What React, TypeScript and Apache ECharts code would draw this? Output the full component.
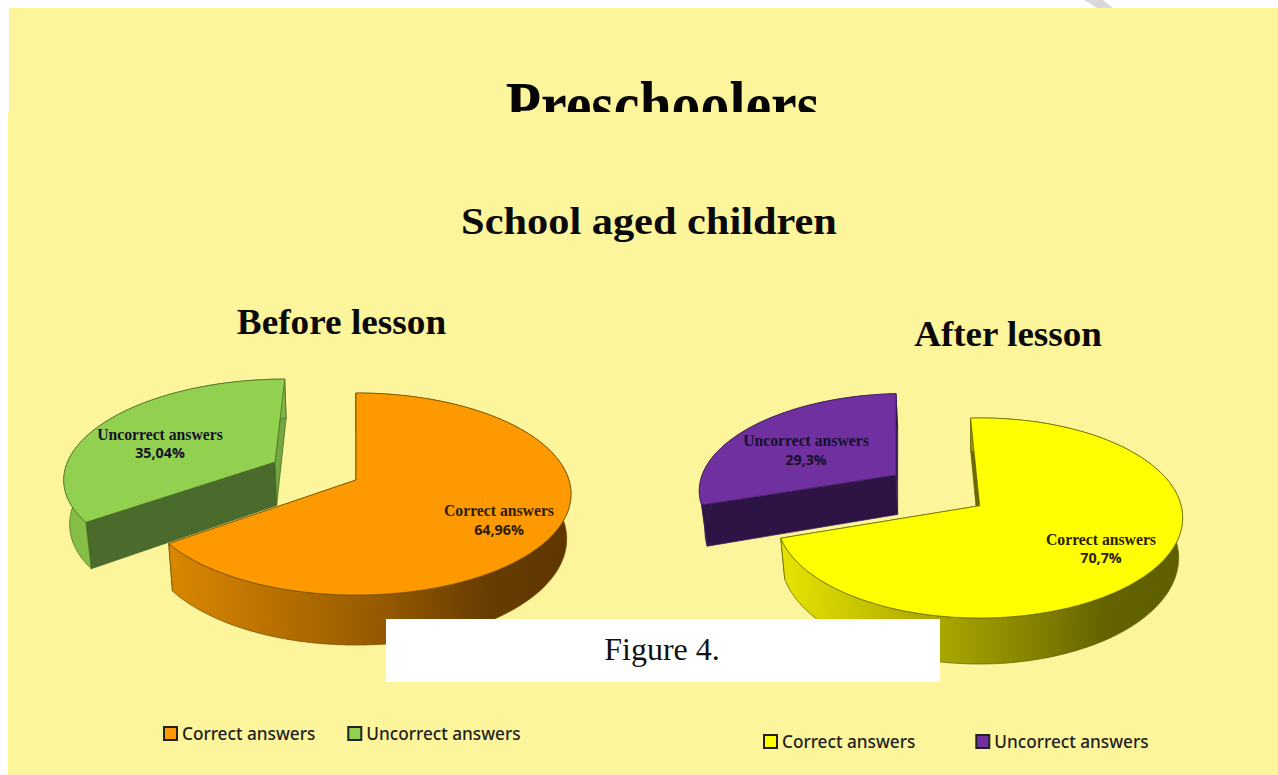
import React, { useEffect, useRef } from "react";
import * as echarts from "echarts";

const categories = ["Correct answers", "Uncorrect answers"];
const beforeValues = [64.96, 35.04];
const afterValues = [70.7, 29.3];
const beforeLabels = ["64,96%", "35,04%"];
const afterLabels = ["70,7%", "29,3%"];

const SERIF = "'Liberation Serif', 'Times New Roman', serif";
const BG = "#FDF59B";

// Perspective description of each 3D pie: an ellipse for the top face, a
// projective shift `a` that moves the pie's centre up, and an extrusion.
const beforePie = {
  cx: 356, cy: 494, rx: 215, ry: 101, a: -0.139, startAngle: 0,
  depth: [45, 45], kx: 0.98, my: 0.05,
  offsets: [[0, 0], [-0.39, -0.186]],
  top: ["#FF9900", "#92D050"],
  outline: ["#6B4A00", "#44661F"],
  startWall: ["#663C00", "#4B6B2C"],
  endWall: ["#D88500", "#72A83E"],
  sideStops: [
    [[0, "#D98700"], [0.5, "#9A5C00"], [0.8, "#663C00"], [1, "#5E3700"]],
    [[0, "#86BF48"], [1, "#6B9E38"]],
  ],
  sideRange: [170, 570],
  labelPos: [[499, 510, 529], [160, 434, 452]],
  texts: beforeLabels,
};
const afterPie = {
  cx: 982.5, cy: 518, rx: 203, ry: 100, a: -0.123, startAngle: -3,
  depth: [40, 42], kx: 0.98, my: 0.06,
  offsets: [[-0.014, 0], [-0.447, -0.324]],
  top: ["#FFFF00", "#7030A0"],
  outline: ["#5E5E00", "#3E1C5E"],
  startWall: ["#6B6B00", "#2E1444"],
  endWall: ["#E0DC00", "#2E1444"],
  sideStops: [
    [[0, "#E6E300"], [0.4, "#A8A500"], [0.65, "#807E00"], [0.8, "#636300"], [1, "#5E5E00"]],
    [[0, "#2E1444"], [1, "#2E1444"]],
  ],
  sideRange: [782, 1185],
  labelPos: [[1101, 539, 557], [806, 440, 459]],
  texts: afterLabels,
};

type Pie = typeof beforePie;

function project(p: Pie, idx: number, deg: number, r: number, lower: boolean): number[] {
  const th = (deg * Math.PI) / 180;
  const u = p.offsets[idx][0] + r * Math.sin(th);
  const v = p.offsets[idx][1] - r * Math.cos(th);
  const d = 1 + p.a * v;
  const s = Math.sqrt(1 - p.a * p.a);
  let x = p.cx + (p.rx * s * u) / d;
  let y = p.cy + (p.ry * (v + p.a)) / d;
  if (lower) {
    x = p.cx + (x - p.cx) * p.kx;
    y = y + p.depth[idx] + p.my * (y - p.cy);
  }
  return [x, y];
}

function arc(p: Pie, idx: number, a0: number, a1: number, lower: boolean): number[][] {
  const n = Math.max(2, Math.ceil(Math.abs(a1 - a0)));
  const pts: number[][] = [];
  for (let i = 0; i <= n; i++) pts.push(project(p, idx, a0 + ((a1 - a0) * i) / n, 1, lower));
  return pts;
}

function sliceSeries(p: Pie, values: number[], idx: number) {
  const before = values.slice(0, idx).reduce((s, v) => s + v, 0);
  return {
    type: "custom",
    name: categories[idx],
    coordinateSystem: "none",
    z: 10,
    silent: true,
    data: [[before, values[idx]]],
    renderItem: (_: unknown, api: any) => {
      const a0 = p.startAngle + (api.value(0) / 100) * 360;
      const a1 = a0 + (api.value(1) / 100) * 360;
      const line = { stroke: p.outline[idx], lineWidth: 0.7 };
      const topArc = arc(p, idx, a0, a1, false);
      const lowArc = arc(p, idx, a0, a1, true);
      const apex = project(p, idx, 0, 0, false);
      const apexLow = project(p, idx, 0, 0, true);
      const poly = (points: number[][], fill: unknown) => ({
        type: "polygon",
        shape: { points },
        style: { fill, ...line },
      });
      const [lx, ly1, ly2] = p.labelPos[idx];
      const labelFill = idx === 0 ? "#2B2000" : "#15102A";
      return {
        type: "group",
        children: [
          poly([apex, topArc[0], lowArc[0], apexLow], p.startWall[idx]),
          poly([apex, topArc[topArc.length - 1], lowArc[lowArc.length - 1], apexLow], p.endWall[idx]),
          poly([...topArc, ...lowArc.slice().reverse()], {
            type: "linear",
            x: p.sideRange[0], y: 0, x2: p.sideRange[1], y2: 0,
            global: true,
            colorStops: p.sideStops[idx].map(([offset, color]) => ({ offset, color })),
          }),
          poly([apex, ...topArc], p.top[idx]),
          {
            type: "text",
            style: {
              text: categories[idx], x: lx, y: ly1, align: "center", verticalAlign: "middle",
              fontFamily: SERIF, fontWeight: "bold", fontSize: 15.7, fill: labelFill,
            },
          },
          {
            type: "text",
            style: {
              text: p.texts[idx], x: lx, y: ly2, align: "center", verticalAlign: "middle",
              fontFamily: "'Open Sans', sans-serif", fontWeight: "bold", fontSize: 14.3, fill: labelFill,
            },
          },
        ],
      };
    },
  };
}

function legendFor(p: Pie, left: number, top: number, itemGap: number) {
  return {
    left, top, itemGap, padding: 0, orient: "horizontal", selectedMode: false,
    itemWidth: 13, itemHeight: 13,
    textStyle: { fontFamily: "'Noto Sans', sans-serif", fontSize: 17.2, color: "#1E1E1E", fontWeight: 500 },
    data: categories.map((name, i) => ({
      name, icon: "rect",
      itemStyle: { color: p.top[i], borderColor: "#222", borderWidth: 2 },
    })),
  };
}

const titleText = (text: string, x: number, y: number, fontSize: number, scaleX: number) => ({
  type: "text", x, y, z: 5, scaleX,
  style: {
    text, align: "center", verticalAlign: "middle", fill: "#0A0A0A",
    fontFamily: SERIF, fontWeight: "bold", fontSize,
  },
});

export default function App() {
  const ref = useRef<HTMLDivElement>(null);
  useEffect(() => {
    document.body.style.margin = "0";
    document.body.style.background = "#fff";
    const chart = echarts.init(ref.current!, null, { renderer: "svg" });
    chart.setOption({
      animation: false,
      legend: [legendFor(beforePie, 163, 725, 32), legendFor(afterPie, 763, 733, 60)],
      series: [
        sliceSeries(beforePie, beforeValues, 1),
        sliceSeries(beforePie, beforeValues, 0),
        sliceSeries(afterPie, afterValues, 1),
        sliceSeries(afterPie, afterValues, 0),
      ],
      graphic: {
        elements: [
          { type: "polygon", z: 1, shape: { points: [[1084, 0], [1103, 0], [1113, 8], [1097, 8]] }, style: { fill: "#D9D9D9" } },
          { type: "rect", z: 1, shape: { x: 9, y: 8, width: 1269, height: 110 }, style: { fill: BG } },
          { type: "rect", z: 4, shape: { x: 8, y: 112, width: 1270, height: 663 }, style: { fill: BG } },
          {
            type: "text", z: 3, x: 662.5, y: 105, scaleX: 1.156, scaleY: 1.35,
            style: {
              text: "Preschoolers", align: "center", verticalAlign: "middle", fill: "#050505",
              fontFamily: SERIF, fontWeight: "bold", fontSize: 50,
            },
          },
          titleText("School aged children", 649, 221, 38, 1.115),
          titleText("Before lesson", 341.5, 322, 36, 1.035),
          titleText("After lesson", 1008, 334, 36, 1.03),
          { type: "rect", z: 50, shape: { x: 386, y: 619, width: 554, height: 63 }, style: { fill: "#FFFFFF" } },
          {
            type: "text", z: 51, x: 662, y: 649,
            style: {
              text: "Figure 4.", align: "center", verticalAlign: "middle", fill: "#111",
              fontFamily: SERIF, fontSize: 32,
            },
          },
        ],
      },
    });
    return () => chart.dispose();
  }, []);
  return <div ref={ref} style={{ position: "absolute", left: 0, top: 0, width: 1278, height: 775 }} />;
}
